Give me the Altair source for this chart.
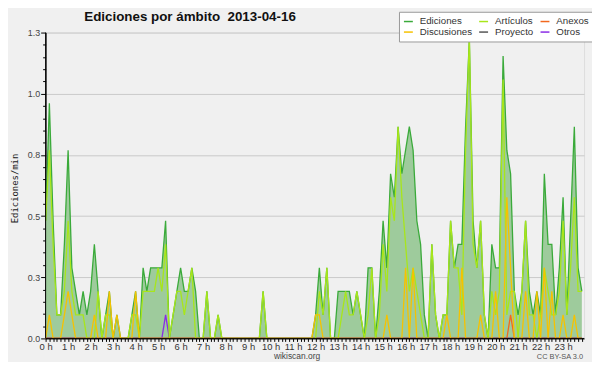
import altair as alt
import pandas as pd

# 10-minute slots over the day (minutes since 00:00)
minutes = list(range(0, 1440, 10))

ediciones = [
    0.5, 1.0, 0.5, 0.1, 0.1, 0.4, 0.8, 0.3, 0.2, 0.1, 0.2, 0.1,
    0.2, 0.4, 0.2, 0.0, 0.1, 0.2, 0.0, 0.1, 0.0, 0.0, 0.0, 0.1,
    0.2, 0.0, 0.3, 0.2, 0.3, 0.3, 0.3, 0.3, 0.5, 0.0, 0.1, 0.2,
    0.3, 0.2, 0.2, 0.3, 0.2, 0.0, 0.0, 0.2, 0.0, 0.0, 0.1, 0.0,
    0.0, 0.0, 0.0, 0.0, 0.0, 0.0, 0.0, 0.0, 0.0, 0.0, 0.2, 0.0,
    0.0, 0.0, 0.0, 0.0, 0.0, 0.0, 0.0, 0.0, 0.0, 0.0, 0.0, 0.0,
    0.1, 0.3, 0.1, 0.3, 0.0, 0.0, 0.2, 0.2, 0.2, 0.2, 0.1, 0.2,
    0.1, 0.0, 0.3, 0.3, 0.0, 0.2, 0.5, 0.3, 0.7, 0.6, 0.9, 0.7,
    0.8, 0.9, 0.8, 0.5, 0.4, 0.1, 0.0, 0.4, 0.1, 0.0, 0.1, 0.1,
    0.5, 0.3, 0.4, 0.4, 0.9, 1.27, 0.5, 0.3, 0.5, 0.1, 0.0, 0.4,
    0.3, 0.3, 1.2, 0.8, 0.7, 0.2, 0.1, 0.2, 0.5, 0.2, 0.1, 0.2,
    0.1, 0.7, 0.4, 0.4, 0.1, 0.3, 0.6, 0.1, 0.5, 0.9, 0.3, 0.2,
]

articulos = [
    0.5, 0.8, 0.4, 0.1, 0.1, 0.2, 0.5, 0.2, 0.1, 0.1, 0.1, 0.0,
    0.0, 0.0, 0.2, 0.0, 0.1, 0.1, 0.0, 0.0, 0.0, 0.0, 0.0, 0.1,
    0.1, 0.0, 0.2, 0.2, 0.2, 0.2, 0.3, 0.2, 0.4, 0.0, 0.1, 0.2,
    0.2, 0.1, 0.2, 0.3, 0.0, 0.0, 0.0, 0.2, 0.0, 0.0, 0.1, 0.0,
    0.0, 0.0, 0.0, 0.0, 0.0, 0.0, 0.0, 0.0, 0.0, 0.0, 0.2, 0.0,
    0.0, 0.0, 0.0, 0.0, 0.0, 0.0, 0.0, 0.0, 0.0, 0.0, 0.0, 0.0,
    0.0, 0.2, 0.1, 0.3, 0.0, 0.0, 0.0, 0.1, 0.2, 0.1, 0.1, 0.2,
    0.1, 0.0, 0.1, 0.3, 0.0, 0.1, 0.4, 0.2, 0.6, 0.5, 0.9, 0.6,
    0.4, 0.2, 0.3, 0.2, 0.1, 0.0, 0.0, 0.4, 0.1, 0.0, 0.1, 0.1,
    0.5, 0.3, 0.3, 0.1, 0.8, 1.28, 0.4, 0.3, 0.5, 0.1, 0.0, 0.2,
    0.1, 0.2, 1.1, 0.1, 0.2, 0.2, 0.0, 0.2, 0.5, 0.1, 0.1, 0.0,
    0.1, 0.3, 0.2, 0.1, 0.1, 0.2, 0.5, 0.1, 0.3, 0.6, 0.2, 0.2,
]

discusiones = [
    0.0, 0.1, 0.0, 0.0, 0.0, 0.1, 0.2, 0.1, 0.0, 0.0, 0.0, 0.0,
    0.0, 0.1, 0.0, 0.0, 0.0, 0.2, 0.0, 0.1, 0.0, 0.0, 0.0, 0.0,
    0.2, 0.0, 0.0, 0.0, 0.0, 0.0, 0.0, 0.0, 0.0, 0.0, 0.0, 0.0,
    0.0, 0.0, 0.0, 0.0, 0.0, 0.0, 0.0, 0.0, 0.0, 0.0, 0.0, 0.0,
    0.0, 0.0, 0.0, 0.0, 0.0, 0.0, 0.0, 0.0, 0.0, 0.0, 0.0, 0.0,
    0.0, 0.0, 0.0, 0.0, 0.0, 0.0, 0.0, 0.0, 0.0, 0.0, 0.0, 0.0,
    0.1, 0.1, 0.0, 0.0, 0.0, 0.0, 0.0, 0.0, 0.0, 0.0, 0.0, 0.0,
    0.0, 0.0, 0.0, 0.0, 0.0, 0.0, 0.0, 0.1, 0.0, 0.0, 0.0, 0.0,
    0.3, 0.0, 0.3, 0.0, 0.0, 0.0, 0.0, 0.0, 0.0, 0.0, 0.0, 0.1,
    0.0, 0.0, 0.0, 0.3, 0.0, 0.0, 0.0, 0.0, 0.1, 0.0, 0.0, 0.0,
    0.2, 0.0, 0.0, 0.6, 0.3, 0.0, 0.0, 0.0, 0.2, 0.0, 0.0, 0.2,
    0.0, 0.3, 0.0, 0.2, 0.0, 0.0, 0.1, 0.0, 0.0, 0.1, 0.0, 0.0,
]

anexos = [0.0] * 124 + [0.1] + [0.0] * 19
proyecto = [0.0] * 144
otros = [0.0] * 32 + [0.1] + [0.0] * 111

# legend fills column by column (2 rows x 3 columns)
legend_order = ["Ediciones", "Discusiones", "Artículos", "Proyecto", "Anexos", "Otros"]
legend_colors = ["#3aaa3a", "#f6c200", "#a8e61a", "#555555", "#f2681e", "#8a2be6"]
draw_order = ["Ediciones", "Proyecto", "Otros", "Anexos", "Artículos", "Discusiones"]

series_values = {
    "Ediciones": ediciones,
    "Artículos": articulos,
    "Anexos": anexos,
    "Discusiones": discusiones,
    "Proyecto": proyecto,
    "Otros": otros,
}

rows = []
for name, vals in series_values.items():
    for m, v in zip(minutes, vals):
        rows.append({"minute": m, "value": v, "series": name})
df = pd.DataFrame(rows)
df_total = pd.DataFrame({"minute": minutes, "value": ediciones})

title_text = "Ediciones por ámbito \u00a02013-04-16"
y_title = "Ediciones/min"
footer_site = "wikiscan.org"
footer_license = "CC BY-SA 3.0"

y_ticks = [round(k * 0.052, 3) for k in range(26)]
major = "abs(datum.value / 0.26 - round(datum.value / 0.26)) < 0.01"

x_axis = alt.Axis(
    values=minutes,
    labelExpr="datum.value % 60 == 0 ? (datum.value / 60) + ' h' : ''",
    title=None,
    grid=False,
    tickSize=3,
    tickColor="black",
    domainColor="black",
    labelFontSize=9.5,
    labelColor="#333333",
    labelPadding=0,
    labelAlign="center",
    labelFlush=False,
    labelOverlap=False,
    labelFont="Liberation Sans",
)
y_axis = alt.Axis(
    values=y_ticks,
    labelExpr=major + " ? format(datum.value, '.1f') : ''",
    title=y_title,
    titleFont="DejaVu Sans Mono",
    titleFontSize=9,
    titleFontWeight="normal",
    titleColor="#222222",
    titleAngle=270,
    titleX=-26,
    titleY=157,
    titleAlign="center",
    titleBaseline="bottom",
    grid=True,
    gridColor="#c9c9c9",
    gridOpacity={"condition": {"test": major, "value": 1}, "value": 0},
    tickSize={"condition": {"test": major, "value": 5}, "value": 3},
    tickColor="black",
    domainColor="black",
    labelFontSize=9,
    labelColor="#444444",
    labelPadding=1,
    labelFlush=False,
    labelOverlap=False,
    labelFont="Liberation Sans",
)

x_enc = alt.X("minute:Q", scale=alt.Scale(domain=[0, 1436], nice=False, zero=False), axis=x_axis)
y_enc = alt.Y("value:Q", scale=alt.Scale(domain=[0, 1.3], nice=False), axis=y_axis)
color_enc = alt.Color(
    "series:N",
    scale=alt.Scale(domain=legend_order, range=legend_colors),
    legend=alt.Legend(
        orient="none",
        legendX=357,
        legendY=-21,
        columns=3,
        gridAlign="each",
        title=None,
        symbolType="stroke",
        symbolSize=81,
        symbolStrokeWidth=1.5,
        labelFontSize=9.8,
        labelFont="Liberation Sans",
        labelColor="#333333",
        labelOffset=6,
        fillColor="white",
        strokeColor="#999999",
        padding=4,
        columnPadding=4,
        rowPadding=0,
    ),
)

area = alt.Chart(df_total).mark_area(color="#9ecb9c", opacity=1).encode(x=x_enc, y=y_enc)

lines = []
for s in draw_order:
    lines.append(
        alt.Chart(df)
        .transform_filter(alt.datum.series == s)
        .mark_line(strokeWidth=1.3)
        .encode(x=x_enc, y=y_enc, color=color_enc)
    )

base_rule = alt.Chart(pd.DataFrame({"value": [0.0]})).mark_rule(color="black", strokeWidth=1).encode(y=y_enc)
left_rule = alt.Chart(pd.DataFrame({"minute": [0]})).mark_rule(color="black", strokeWidth=1).encode(x=x_enc)

shadow = alt.Chart(pd.DataFrame({"k": [0]})).mark_rect(color="#8a8a8a").encode(
    x=alt.value(360), x2=alt.value(547), y=alt.value(-18), y2=alt.value(8)
)

title = alt.Chart(pd.DataFrame({"t": [title_text]})).mark_text(
    align="left", baseline="middle", font="Liberation Sans", fontSize=13.5, fontWeight="bold", color="#111111"
).encode(x=alt.value(39), y=alt.value(-15.5), text="t:N")

site = alt.Chart(pd.DataFrame({"t": [footer_site]})).mark_text(
    align="center", baseline="middle", font="Liberation Sans", fontSize=8.5, color="#444444"
).encode(x=alt.value(254), y=alt.value(327), text="t:N")

lic = alt.Chart(pd.DataFrame({"t": [footer_license]})).mark_text(
    align="right", baseline="middle", font="Liberation Sans", fontSize=7.5, color="#555555"
).encode(x=alt.value(543), y=alt.value(327.5), text="t:N")

chart = (
    alt.layer(area, *lines, base_rule, left_rule, shadow, title, site, lic)
    .properties(
        width=544,
        height=309,
        autosize=alt.AutoSizeParams(type="none"),
        padding={"left": 38, "top": 23, "right": 8, "bottom": 22},
        background="#f0f0f0",
    )
    .configure_view(fill="#edeff1", stroke=None)
    .configure(font="Liberation Sans")
)

chart.save("out.html", embed_options={"renderer": "svg", "actions": False})
